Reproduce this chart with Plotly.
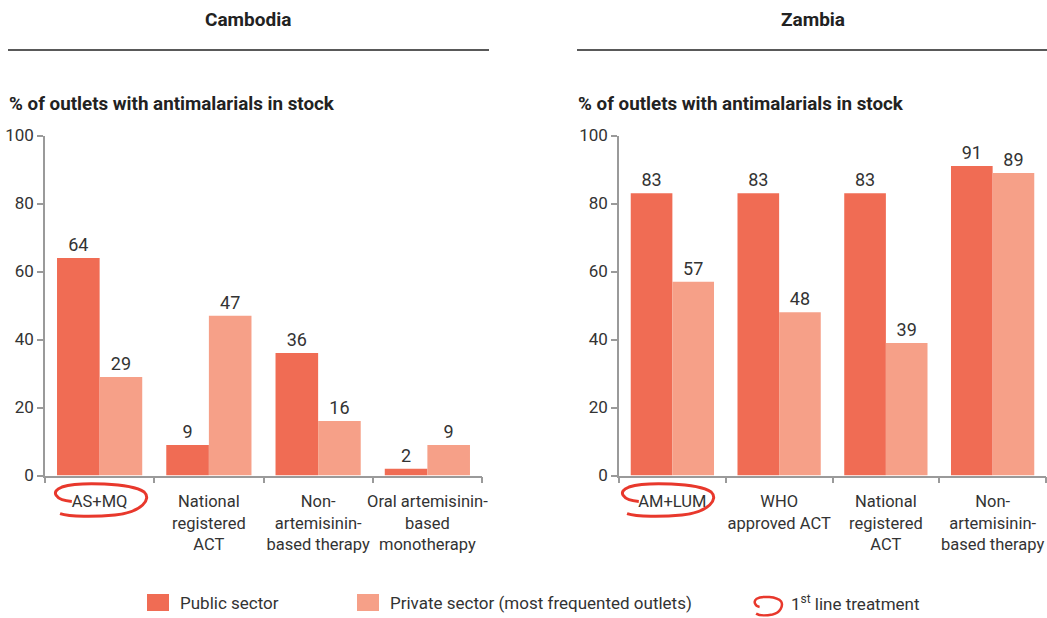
import plotly.graph_objects as go

W, H = 1047, 618

cambodia_categories = ["AS+MQ", "National<br>registered<br>ACT", "Non-<br>artemisinin-<br>based therapy",
                       "Oral artemisinin-<br>based<br>monotherapy"]
cambodia_public = [64, 9, 36, 2]
cambodia_private = [29, 47, 16, 9]

zambia_categories = ["AM+LUM", "WHO<br>approved ACT", "National<br>registered<br>ACT",
                     "Non-<br>artemisinin-<br>based therapy"]
zambia_public = [83, 83, 83, 91]
zambia_private = [57, 48, 39, 89]

series_names = ["Public sector", "Private sector (most frequented outlets)"]
panel_titles = ["Cambodia", "Zambia"]
y_title = "% of outlets with antimalarials in stock"
y_ticks = [0, 20, 40, 60, 80, 100]

PUBLIC = "#F06C54"
PRIVATE = "#F6A088"
RED = "#E8382C"
TXT = "#333333"
AX = "#9a9a9a"
FONT = "Roboto, sans-serif"


def px(x):
    return x / W


def py(y):
    return 1 - y / H


fig = go.Figure()

for cats, pub, pri, xa, ya in [
    (cambodia_categories, cambodia_public, cambodia_private, "x", "y"),
    (zambia_categories, zambia_public, zambia_private, "x2", "y2"),
]:
    for vals, color, name in [(pub, PUBLIC, series_names[0]), (pri, PRIVATE, series_names[1])]:
        fig.add_trace(go.Bar(
            x=cats, y=vals, name=name, marker=dict(color=color, line=dict(width=0)),
            text=[str(v) for v in vals], textposition="outside",
            textfont=dict(family=FONT, size=18, color=TXT),
            cliponaxis=False, xaxis=xa, yaxis=ya, showlegend=False,
        ))

y_dom = [py(475.5), py(135.5)]
axis_common = dict(
    showgrid=False, zeroline=False, showline=True, linecolor=AX, linewidth=1.5,
    ticks="outside", tickcolor=AX, ticklen=6, tickwidth=1.5, automargin=False, tickangle=0,
    fixedrange=True,
)
xfont = dict(family=FONT, size=16.5, color=TXT)
yfont = dict(family=FONT, size=17, color=TXT)
fig.update_layout(
    width=W, height=H, margin=dict(l=0, r=0, t=0, b=0),
    plot_bgcolor="white", paper_bgcolor="white",
    barmode="group", bargap=0.22, bargroupgap=0,
    font=dict(family=FONT, color=TXT),
    xaxis=dict(domain=[px(45), px(482)], anchor="y", tickson="boundaries", tickfont=xfont,
               ticklabelstandoff=10, **axis_common),
    yaxis=dict(domain=y_dom, anchor="x", range=[0, 100], tickvals=y_ticks, tickfont=yfont, **axis_common),
    xaxis2=dict(domain=[px(619), px(1046)], anchor="y2", tickson="boundaries", tickfont=xfont,
                ticklabelstandoff=10, **axis_common),
    yaxis2=dict(domain=y_dom, anchor="x2", range=[0, 100], tickvals=y_ticks, tickfont=yfont, **axis_common),
)

shapes = []
annotations = []

# panel headers
for title, cx, x0, x1 in [(panel_titles[0], 248, 8, 489), (panel_titles[1], 813, 577, 1047)]:
    annotations.append(dict(text="<b>" + title + "</b>", x=px(cx), y=py(19), xref="paper", yref="paper",
                            showarrow=False, xanchor="center", yanchor="middle",
                            font=dict(family=FONT, size=19, color="#222")))
    shapes.append(dict(type="line", xref="paper", yref="paper", x0=px(x0), x1=px(x1), y0=py(50), y1=py(50),
                       line=dict(color="#222", width=1.5)))
    annotations.append(dict(text="<b>" + y_title + "</b>", x=px(x0 - 1), y=py(104), xref="paper", yref="paper",
                            showarrow=False, xanchor="left", yanchor="middle",
                            font=dict(family=FONT, size=18.8, color="#222")))


def scribble(cx, cy, rx, ry):
    pts = [
        (cx - 0.60 * rx, cy + 0.10 * ry),
        (cx - 0.96 * rx, cy + 0.00 * ry), (cx - 1.06 * rx, cy - 0.55 * ry), (cx - 0.81 * rx, cy - 0.81 * ry),
        (cx - 0.43 * rx, cy - 1.15 * ry), (cx + 0.64 * rx, cy - 1.06 * ry), (cx + 0.94 * rx, cy - 0.50 * ry),
        (cx + 1.10 * rx, cy - 0.06 * ry), (cx + 0.90 * rx, cy + 0.75 * ry), (cx + 0.32 * rx, cy + 0.94 * ry),
        (cx - 0.10 * rx, cy + 1.06 * ry), (cx - 0.64 * rx, cy + 1.06 * ry), (cx - 0.85 * rx, cy + 0.85 * ry),
    ]
    p = [f"{px(x):.5f},{py(y):.5f}" for x, y in pts]
    return "M " + p[0] + " C " + " ".join(p[1:4]) + " C " + " ".join(p[4:7]) + " C " + " ".join(p[7:10]) + " C " + " ".join(p[10:13])


for cx in [100, 667]:
    shapes.append(dict(type="path", xref="paper", yref="paper", path=scribble(cx, 500, 47, 16),
                       line=dict(color=RED, width=3)))

# legend
for sx, color, label in [(147, PUBLIC, series_names[0]), (357, PRIVATE, series_names[1])]:
    shapes.append(dict(type="rect", xref="paper", yref="paper", x0=px(sx), x1=px(sx + 22), y0=py(611), y1=py(594),
                       fillcolor=color, line=dict(width=0)))
    annotations.append(dict(text=label, x=px(sx + 31), y=py(603), xref="paper", yref="paper", showarrow=False,
                            xanchor="left", yanchor="middle", font=dict(family=FONT, size=17, color=TXT)))
shapes.append(dict(type="path", xref="paper", yref="paper", path=scribble(768, 606, 14, 9),
                   line=dict(color=RED, width=2.5)))
annotations.append(dict(text="1<sup>st</sup> line treatment", x=px(789), y=py(603), xref="paper", yref="paper",
                        showarrow=False, xanchor="left", yanchor="middle",
                        font=dict(family=FONT, size=17, color=TXT)))

fig.update_layout(shapes=shapes, annotations=annotations)
fig.write_html(
    "out.html",
    config={"displayModeBar": False},
    post_script="document.body.style.margin='0';document.body.style.overflow='hidden';",
)
